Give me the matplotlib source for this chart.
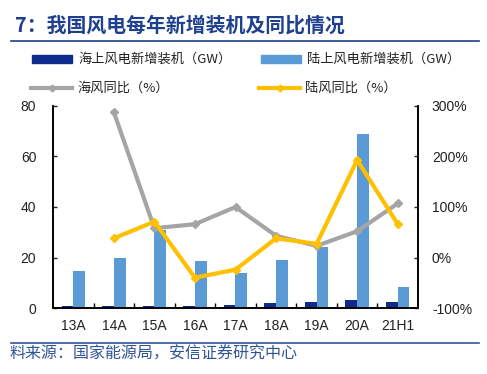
import matplotlib
matplotlib.use('Agg')
import matplotlib.pyplot as plt
import numpy as np
from matplotlib.lines import Line2D
from matplotlib.patches import Rectangle

plt.rcParams['font.family'] = ['Liberation Sans', 'Noto Sans CJK SC', 'DejaVu Sans']

categories = ['13A', '14A', '15A', '16A', '17A', '18A', '19A', '20A', '21H1']
offshore_gw = [0.6, 0.7, 0.8, 0.6, 1.2, 1.8, 2.2, 3.0, 2.2]
onshore_gw = [14.5, 19.8, 31.0, 18.7, 14.0, 19.2, 24.0, 69.0, 8.4]
# YoY (%), first year has no value
offshore_yoy = [np.nan, 288, 58, 66, 100, 43, 23, 52, 107]
onshore_yoy = [np.nan, 38, 71, -40, -24, 38, 27, 193, 66]

dark_blue = '#0E2A8C'
light_blue = '#5B9BD5'
gray = '#A5A5A5'
yellow = '#FFC000'
title_blue = '#1F3F8F'

fig = plt.figure(figsize=(4.87, 3.74), dpi=100)
ax = fig.add_axes([53 / 487, 66 / 374, 365 / 487, 202 / 374])
ax2 = ax.twinx()

x = np.arange(len(categories))
w = 0.29
ax.bar(x - w / 2, offshore_gw, w, color=dark_blue, zorder=2)
ax.bar(x + w / 2, onshore_gw, w, color=light_blue, zorder=2)

ax2.plot(x, offshore_yoy, color=gray, lw=3.0, marker='D', ms=4, zorder=3)
ax2.plot(x, onshore_yoy, color=yellow, lw=3.0, marker='D', ms=4, zorder=4)

ax.set_xlim(-0.5, len(categories) - 0.5)
ax.set_ylim(0, 80)
ax.set_yticks([0, 20, 40, 60, 80])
ax2.set_ylim(-100, 300)
ax2.set_yticks([-100, 0, 100, 200, 300])
ax2.set_yticklabels(['-100%', '0%', '100%', '200%', '300%'])

ax.set_xticks(x)
ax.set_xticklabels(categories)
ax.set_xticks(np.arange(0.5, len(categories) - 1, 1), minor=True)
ax.tick_params(axis='x', which='major', length=0, pad=8, labelsize=10, colors='#222222')
ax.tick_params(axis='x', which='minor', direction='in', length=3.5, width=1, color='black')
ax.tick_params(axis='y', direction='in', length=3, width=1, pad=12, labelsize=10, colors='#222222')
ax2.tick_params(axis='y', direction='in', length=3, width=1, pad=10, labelsize=10, colors='#222222')
for a in (ax, ax2):
    a.spines['top'].set_visible(False)
    for s in ('left', 'right', 'bottom'):
        a.spines[s].set_color('black')
        a.spines[s].set_linewidth(1.2)
ax.set_zorder(ax2.get_zorder() - 1)
ax.patch.set_visible(False)

cjk = ['Noto Sans CJK SC', 'DejaVu Sans']

# title and rules
fig.text(15 / 487, 1 - 25 / 374, '7：我国风电每年新增装机及同比情况', fontsize=14.3,
         fontweight='bold', color=title_blue, va='center', ha='left', family=cjk)
fig.add_artist(Line2D([11 / 487, 479 / 487], [1 - 41 / 374, 1 - 41 / 374], color=title_blue, lw=1.2))
fig.add_artist(Line2D([11 / 487, 479 / 487], [1 - 343 / 374, 1 - 343 / 374], color='#2F5597', lw=1.2))
fig.text(10 / 487, 1 - 354 / 374, '料来源：国家能源局，安信证券研究中心', fontsize=11.5,
         color='#2F5597', va='center', ha='left', family=cjk)

# legend
leg = [
    ('bar', dark_blue, 32, 59, '海上风电新增装机（GW）'),
    ('bar', light_blue, 261, 59, '陆上风电新增装机（GW）'),
    ('line', gray, 31, 88, '海风同比（%）'),
    ('line', yellow, 259, 88, '陆风同比（%）'),
]
for kind, col, lx, ly, label in leg:
    yy = 1 - ly / 374
    if kind == 'bar':
        fig.add_artist(Rectangle((lx / 487, yy - 4 / 374), 40 / 487, 8 / 374,
                                 color=col, transform=fig.transFigure))
    else:
        fig.add_artist(Line2D([lx / 487, (lx + 41) / 487], [yy, yy], color=col, lw=3.0,
                              transform=fig.transFigure))
        fig.add_artist(Line2D([(lx + 20.5) / 487], [yy], color=col, marker='D', ms=3.5,
                              transform=fig.transFigure))
    fig.text((lx + 46) / 487, yy, label, fontsize=9.5, va='center', ha='left',
             color='#222222', family=cjk)

fig.savefig('out.png', dpi=100)
